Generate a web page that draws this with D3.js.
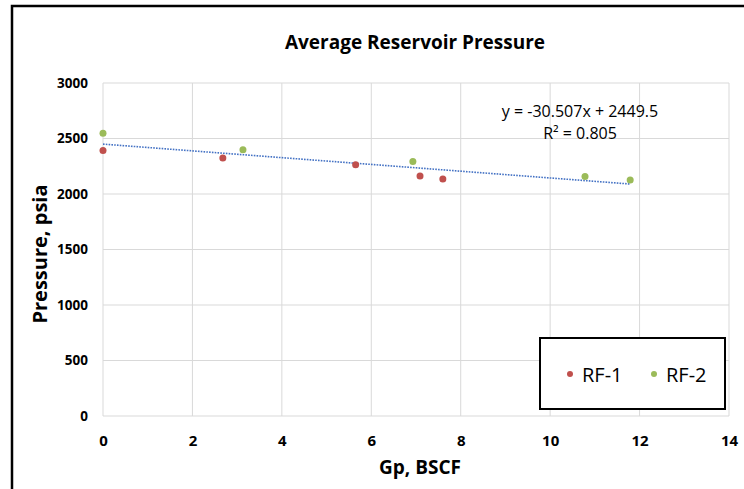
<!DOCTYPE html>
<html>
<head>
    <title>Average Reservoir Pressure</title>
    <script src="https://d3js.org/d3.v7.min.js"></script>
    <style>
        body {
            margin: 0;
            background-color: white;
        }
        text {
            font-family: "Open Sans", sans-serif;
            fill: #000;
        }
    </style>
</head>
<body>
<div id="chart"></div>
<script>
    // Series data
    const rf1Gp = [0, 2.68, 5.65, 7.09, 7.60];
    const rf1P = [2393, 2325, 2263, 2163, 2136];
    const rf2Gp = [0, 3.13, 6.93, 10.78, 11.79];
    const rf2P = [2548, 2398, 2292, 2157, 2127];

    const xTicks = [0, 2, 4, 6, 8, 10, 12, 14];
    const yTicks = [0, 500, 1000, 1500, 2000, 2500, 3000];

    // trendline over all points (Excel linear fit)
    const slope = -30.507;
    const intercept = 2449.5;
    const r2 = 0.805;

    const width = 744;
    const height = 489;
    const margin = { top: 83, right: 15, bottom: 73, left: 103 };

    const svg = d3.select("#chart")
        .append("svg")
        .attr("width", width)
        .attr("height", height);

    // outer frame (only left and top edges fall inside the picture)
    svg.append("rect")
        .attr("x", 12)
        .attr("y", 6)
        .attr("width", width)
        .attr("height", height)
        .attr("fill", "none")
        .attr("stroke", "#000")
        .attr("stroke-width", 2.5);

    const x = d3.scaleLinear()
        .domain([0, 14])
        .range([margin.left, width - margin.right]);

    const y = d3.scaleLinear()
        .domain([0, 3000])
        .range([height - margin.bottom, margin.top]);

    // gridlines
    svg.append("g")
        .selectAll("line")
        .data(xTicks)
        .join("line")
        .attr("x1", d => x(d))
        .attr("x2", d => x(d))
        .attr("y1", y(0))
        .attr("y2", y(3000))
        .attr("stroke", "#d9d9d9")
        .attr("stroke-width", 1);

    svg.append("g")
        .selectAll("line")
        .data(yTicks)
        .join("line")
        .attr("x1", x(0))
        .attr("x2", x(14))
        .attr("y1", d => y(d))
        .attr("y2", d => y(d))
        .attr("stroke", "#d9d9d9")
        .attr("stroke-width", 1);

    // x axis labels
    const xAxis = svg.append("g")
        .attr("transform", `translate(0,${y(0)})`)
        .call(d3.axisBottom(x).tickValues(xTicks).tickSize(0).tickPadding(19));
    xAxis.select(".domain").remove();
    xAxis.selectAll("text")
        .style("font-family", "'Open Sans', sans-serif")
        .style("font-size", "15px")
        .style("font-weight", "bold")
        .attr("fill", "#000");

    // y axis labels
    const yAxis = svg.append("g")
        .attr("transform", `translate(${x(0)},0)`)
        .call(d3.axisLeft(y).tickValues(yTicks).tickFormat(d3.format("d")).tickSize(0).tickPadding(15));
    yAxis.select(".domain").remove();
    yAxis.selectAll("text")
        .style("font-family", "'Open Sans', sans-serif")
        .style("font-size", "13.5px")
        .style("font-weight", "bold")
        .attr("fill", "#000");

    // trendline
    const xMax = d3.max(rf1Gp.concat(rf2Gp));
    svg.append("line")
        .attr("x1", x(0))
        .attr("y1", y(intercept))
        .attr("x2", x(xMax))
        .attr("y2", y(slope * xMax + intercept))
        .attr("stroke", "#4472c4")
        .attr("stroke-width", 1.6)
        .attr("stroke-dasharray", "1.6 1.2");

    // points
    const rf1 = rf1Gp.map((g, i) => ({ gp: g, p: rf1P[i] }));
    const rf2 = rf2Gp.map((g, i) => ({ gp: g, p: rf2P[i] }));

    svg.append("g")
        .selectAll("circle")
        .data(rf1)
        .join("circle")
        .attr("cx", d => x(d.gp))
        .attr("cy", d => y(d.p))
        .attr("r", 3.5)
        .attr("fill", "#c0504d");

    svg.append("g")
        .selectAll("circle")
        .data(rf2)
        .join("circle")
        .attr("cx", d => x(d.gp))
        .attr("cy", d => y(d.p))
        .attr("r", 3.5)
        .attr("fill", "#9bbb59");

    // equation label
    svg.append("text")
        .attr("x", 580)
        .attr("y", 117)
        .attr("text-anchor", "middle")
        .style("font-size", "16px")
        .text(`y = ${slope}x + ${intercept}`);

    svg.append("text")
        .attr("x", 580)
        .attr("y", 139)
        .attr("text-anchor", "middle")
        .style("font-size", "16px")
        .text(`R² = ${r2}`);

    // title
    svg.append("text")
        .attr("x", 415)
        .attr("y", 49)
        .attr("text-anchor", "middle")
        .style("font-size", "19px")
        .style("font-weight", "bold")
        .text("Average Reservoir Pressure");

    // axis titles
    svg.append("text")
        .attr("x", 420)
        .attr("y", 474)
        .attr("text-anchor", "middle")
        .style("font-size", "19px")
        .style("font-weight", "bold")
        .text("Gp, BSCF");

    svg.append("text")
        .attr("transform", `translate(47,254) rotate(-90)`)
        .attr("text-anchor", "middle")
        .style("font-size", "20px")
        .style("font-weight", "bold")
        .text("Pressure, psia");

    // legend
    const legend = svg.append("g");
    legend.append("rect")
        .attr("x", 540)
        .attr("y", 338)
        .attr("width", 185)
        .attr("height", 71)
        .attr("fill", "#fff")
        .attr("stroke", "#000")
        .attr("stroke-width", 2);

    const legendItems = [
        { name: "RF-1", color: "#c0504d", cx: 570 },
        { name: "RF-2", color: "#9bbb59", cx: 654 }
    ];
    legend.selectAll("circle")
        .data(legendItems)
        .join("circle")
        .attr("cx", d => d.cx)
        .attr("cy", 374)
        .attr("r", 3)
        .attr("fill", d => d.color);
    legend.selectAll("text")
        .data(legendItems)
        .join("text")
        .attr("x", d => d.cx + 12)
        .attr("y", 382)
        .style("font-size", "20px")
        .text(d => d.name);
</script>
</body>
</html>
